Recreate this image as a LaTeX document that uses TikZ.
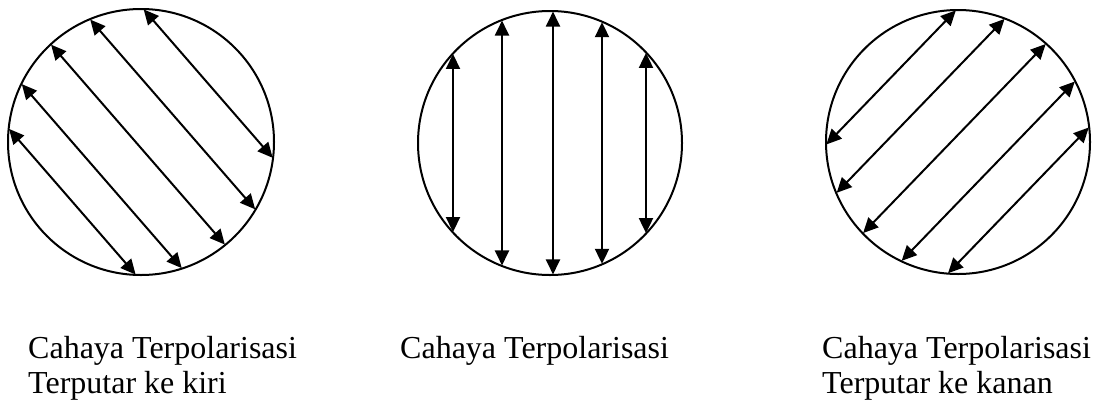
\documentclass[tikz,border=0pt]{standalone}
\usepackage{fontspec}
\setmainfont{Liberation Serif}
\usetikzlibrary{arrows.meta}

\tikzset{
  rim/.style={line width=2pt},
  pol/.style={line width=2pt, shorten <=0.5pt, shorten >=0.5pt,
    {Triangle[length=15pt,width=14pt]}-{Triangle[length=15pt,width=14pt]}},
  caption/.style={anchor=base west, inner sep=0pt, align=left,
    font=\fontsize{32}{35}\selectfont}
}

\begin{document}
\begin{tikzpicture}[x=1pt, y=-1pt]
    \useasboundingbox (0,0) rectangle (1095,405);

    % Left circle: rotated to the left
    \draw[rim] (141,142) circle[radius=133];
    \foreach \v in {-89,-42,4,52,91}
        \draw[pol, shift={(141,142)}, rotate=-49]
            ({-133*cos(asin(\v/133))},\v) -- ({133*cos(asin(\v/133))},\v);

    % Middle circle: vertical polarisation
    \draw[rim] (550,143) circle[radius=132];
    \foreach \v in {97,48,-3,-52,-96}
        \draw[pol, shift={(550,143)}, rotate=-90]
            ({-132*cos(asin(\v/132))},\v) -- ({132*cos(asin(\v/132))},\v);

    % Right circle: rotated to the right
    \draw[rim] (958,142) circle[radius=132];
    \foreach \v in {-93,-52,-5,42,84}
        \draw[pol, shift={(958,142)}, rotate=46]
            ({-132*cos(asin(\v/132))},\v) -- ({132*cos(asin(\v/132))},\v);

    % Captions (base = last line)
    \node[caption] (lefttext) at (28,393) {Cahaya Terpolarisasi\\Terputar ke kiri};
    \node[caption] (midtext) at (400,358) {Cahaya Terpolarisasi};
    \node[caption] (righttext) at (822,393) {Cahaya Terpolarisasi\\Terputar ke kanan};

\end{tikzpicture}
\end{document}
